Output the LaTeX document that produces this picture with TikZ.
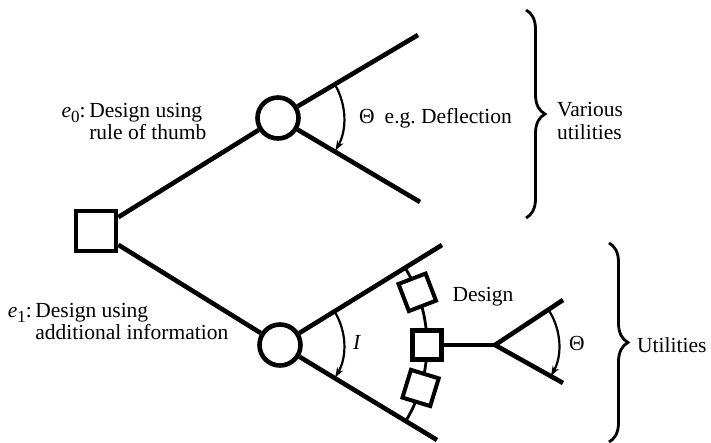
\documentclass[tikz,border=0pt]{standalone}
\usepackage{fontspec}
\setmainfont{Liberation Serif}
\usetikzlibrary{arrows.meta,decorations.pathreplacing,calc}
\newcommand{\lowsub}[1]{\raisebox{-5pt}{\fontsize{17}{17}\selectfont #1}}
\begin{document}
\begin{tikzpicture}[x=1pt,y=1pt,
  branch/.style={line width=4.6pt},
  decbox/.style={draw, line width=4.6pt, minimum size=40pt, inner sep=0pt},
  chance/.style={draw, circle, line width=4.6pt, minimum size=41pt, inner sep=0pt},
  smallbox/.style={draw, fill=white, line width=4pt, minimum size=29pt, inner sep=0pt},
  angarc/.style={line width=2.2pt, -{Stealth[length=10pt,width=7pt]}},
  lbl/.style={font=\fontsize{21.5}{22.5}\selectfont, inner sep=0pt},
  brc/.style={decorate, decoration={brace, amplitude=19pt}, line width=2.8pt}
]
\useasboundingbox (0,0) rectangle (711,443);

% nodes
\node[decbox] (D) at (96,212) {};
\node[chance] (C1) at (278,325) {};
\node[chance] (C2) at (280,98) {};

\coordinate (U1) at (418,408);
\coordinate (U2) at (420,241);
\coordinate (L1) at (442,198);
\coordinate (L2) at (437,3);

\draw[branch] (D) -- (C1);
\draw[branch] (D) -- (C2);
\draw[branch] (C1) -- (U1);
\draw[branch] (C1) -- (U2);
\draw[branch] (C2) -- (L1);
\draw[branch] (C2) -- (L2);

% arc through information outcomes
\draw[line width=2.8pt] (C2.center) ++(31.7:147) arc[start angle=31.7, end angle=-31.2, radius=147];

\node[smallbox, rotate=21] (S1) at ($(C2.center)+(21:147)$) {};
\node[smallbox, line width=4.8pt] (S2) at (427,98) {};
\node[smallbox, rotate=-17] (S3) at ($(C2.center)+(-17:147)$) {};

\coordinate (F) at (495,98);
\coordinate (F1) at (563,143);
\coordinate (F2) at (563,60);
\draw[branch] (S2) -- (F);
\draw[branch] (F) -- (F1);
\draw[branch] (F) -- (F2);

% angle arcs
\draw[angarc] (C1.center) ++(30.5:66) arc[start angle=30.5, end angle=-29.5, radius=66];
\draw[angarc] (C2.center) ++(31.5:64) arc[start angle=31.5, end angle=-30.5, radius=64];
\draw[angarc] (F) ++(32:64) arc[start angle=32, end angle=-29, radius=64];

% labels
\node[lbl] (T0) at (134,319) {\begin{tabular}{@{}r@{}l@{}}\textit{e}\lowsub{0}:\,&Design using\\&rule of thumb\end{tabular}};
\node[lbl] (T1) at (118,119) {\begin{tabular}{@{}r@{}l@{}}\textit{e}\lowsub{1}:\,&Design using\\&additional information\end{tabular}};
\node[lbl, anchor=west] (TD) at (359,325) {Θ\hspace{10pt}e.g.\ Deflection};
\node[lbl] (TI) at (357,101) {\textit{I}};
\node[lbl] (TT) at (577,100) {Θ};
\node[lbl] (TDs) at (483,146) {Design};

% braces
\coordinate (B1a) at (526,433);
\coordinate (B1b) at (526,225);
\draw[brc] (B1a) -- (B1b);
\node[lbl, anchor=west, align=left] (V) at (557,322) {Various\\utilities};

\coordinate (B2a) at (609,200);
\coordinate (B2b) at (609,1);
\draw[brc] (B2a) -- (B2b);
\node[lbl, anchor=west] (UT) at (637,98) {Utilities};
\end{tikzpicture}
\end{document}
